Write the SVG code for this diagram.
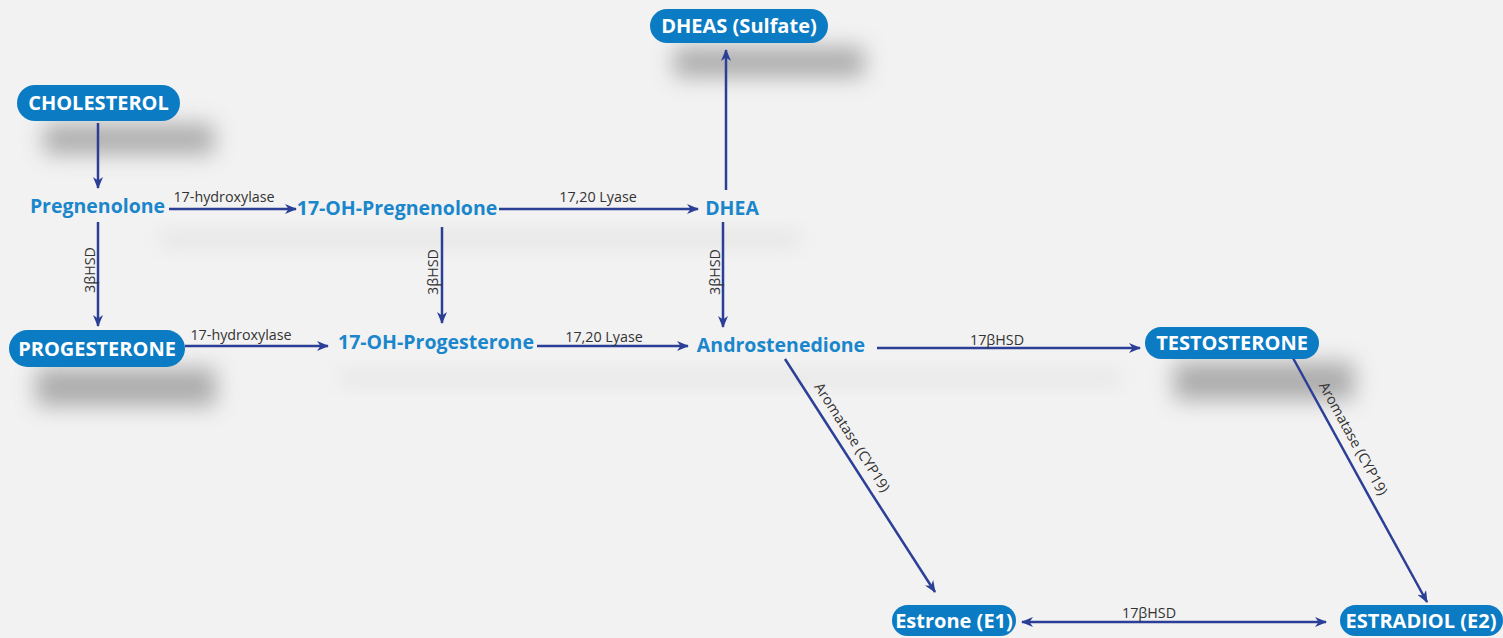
<svg xmlns="http://www.w3.org/2000/svg" width="1503" height="638" viewBox="0 0 1503 638">
<defs>
<filter id="blur" x="-50%" y="-150%" width="200%" height="400%"><feGaussianBlur stdDeviation="11"/></filter>
<filter id="blur2" x="-50%" y="-100%" width="200%" height="300%"><feGaussianBlur stdDeviation="10"/></filter>
<marker id="ah" viewBox="0 0 12 10" refX="11" refY="5" markerWidth="12" markerHeight="10" markerUnits="userSpaceOnUse" orient="auto-start-reverse">
<path d="M0,0 L12,5 L0,10 L3.5,5 z" fill="#2b3f97"/>
</marker>
<style>
.pill{fill:#0b7bc3}
.pt{font-family:"Open Sans","Liberation Sans",sans-serif;font-weight:bold;font-size:20px;fill:#ffffff;text-anchor:middle}
.nt{font-family:"Open Sans","Liberation Sans",sans-serif;font-weight:bold;font-size:19.5px;fill:#1a86cb;text-anchor:middle}
.lb{font-family:"Open Sans","Liberation Sans",sans-serif;font-size:14.3px;fill:#333333;text-anchor:middle}
.ln{stroke:#2b3f97;stroke-width:2.5;fill:none;marker-end:url(#ah)}
.sh{fill:#a0a0a0;filter:url(#blur)}
.fsh{fill:#d4d4d4;filter:url(#blur2)}
</style>
</defs>
<rect width="1503" height="638" fill="#f2f2f2"/>
<g id="shadows">
<rect class="fsh" x="160" y="232" width="640" height="14" opacity="0.5"/>
<rect class="fsh" x="340" y="372" width="780" height="12" opacity="0.5"/>
<rect class="sh" x="44" y="124" width="170" height="30" opacity="0.85"/>
<rect class="sh" x="674" y="47" width="190" height="30" opacity="0.85"/>
<rect class="sh" x="36" y="368" width="180" height="38" opacity="0.85"/>
<rect class="sh" x="1174" y="362" width="180" height="38" opacity="0.85"/>
</g>
<g id="connectors">
<line class="ln" x1="98" y1="123" x2="98" y2="188"/>
<line class="ln" x1="169" y1="209" x2="296" y2="209"/>
<line class="ln" x1="499" y1="209" x2="698" y2="209"/>
<line class="ln" x1="726" y1="190" x2="726" y2="50"/>
<line class="ln" x1="98" y1="222" x2="98" y2="326"/>
<line class="ln" x1="442" y1="227" x2="442" y2="323"/>
<line class="ln" x1="723" y1="222" x2="723" y2="327"/>
<line class="ln" x1="185" y1="346" x2="328" y2="346"/>
<line class="ln" x1="537" y1="346" x2="688" y2="346"/>
<line class="ln" x1="877" y1="348" x2="1140" y2="348"/>
<line class="ln" x1="785" y1="359" x2="935" y2="592"/>
<line class="ln" x1="1293" y1="358" x2="1427" y2="602"/>
<line class="ln" x1="1022" y1="622" x2="1326" y2="622" style="marker-start:url(#ah)"/>
<text class="lb" x="224" y="202">17-hydroxylase</text>
<text class="lb" x="598" y="202">17,20 Lyase</text>
<text class="lb" transform="translate(95,270) rotate(-90)">3βHSD</text>
<text class="lb" transform="translate(438,272) rotate(-90)">3βHSD</text>
<text class="lb" transform="translate(720,272) rotate(-90)">3βHSD</text>
<text class="lb" x="241" y="340">17-hydroxylase</text>
<text class="lb" x="604" y="342">17,20 Lyase</text>
<text class="lb" x="997" y="345">17βHSD</text>
<text class="lb" transform="translate(848,440) rotate(57.2)">Aromatase (CYP19)</text>
<text class="lb" transform="translate(1349,441) rotate(61.2)">Aromatase (CYP19)</text>
<text class="lb" x="1149" y="618">17βHSD</text>
</g>
<g id="cholesterol"><rect class="pill" x="17" y="85" width="163" height="36" rx="18"/><text class="pt" x="98.5" y="110">CHOLESTEROL</text></g>
<g id="dheas"><rect class="pill" x="650" y="9" width="178" height="34" rx="17"/><text class="pt" x="739" y="33">DHEAS (Sulfate)</text></g>
<g id="progesterone"><rect class="pill" x="9" y="330" width="176" height="37" rx="18.5"/><text class="pt" x="97" y="355.5">PROGESTERONE</text></g>
<g id="testosterone"><rect class="pill" x="1145" y="327" width="174" height="32" rx="16"/><text class="pt" x="1232" y="350">TESTOSTERONE</text></g>
<g id="estrone"><rect class="pill" x="892" y="605" width="124" height="31" rx="15.5"/><text class="pt" x="954" y="627.5">Estrone (E1)</text></g>
<g id="estradiol"><rect class="pill" x="1340" y="605" width="163" height="31" rx="15.5"/><text class="pt" x="1421" y="627.5">ESTRADIOL (E2)</text></g>
<g id="pregnenolone"><text class="nt" x="97.5" y="213">Pregnenolone</text></g>
<g id="oh-pregnenolone"><text class="nt" x="397" y="215">17-OH-Pregnenolone</text></g>
<g id="dhea"><text class="nt" x="732" y="215">DHEA</text></g>
<g id="oh-progesterone"><text class="nt" x="436" y="349">17-OH-Progesterone</text></g>
<g id="androstenedione"><text class="nt" x="781" y="352">Androstenedione</text></g>
</svg>
